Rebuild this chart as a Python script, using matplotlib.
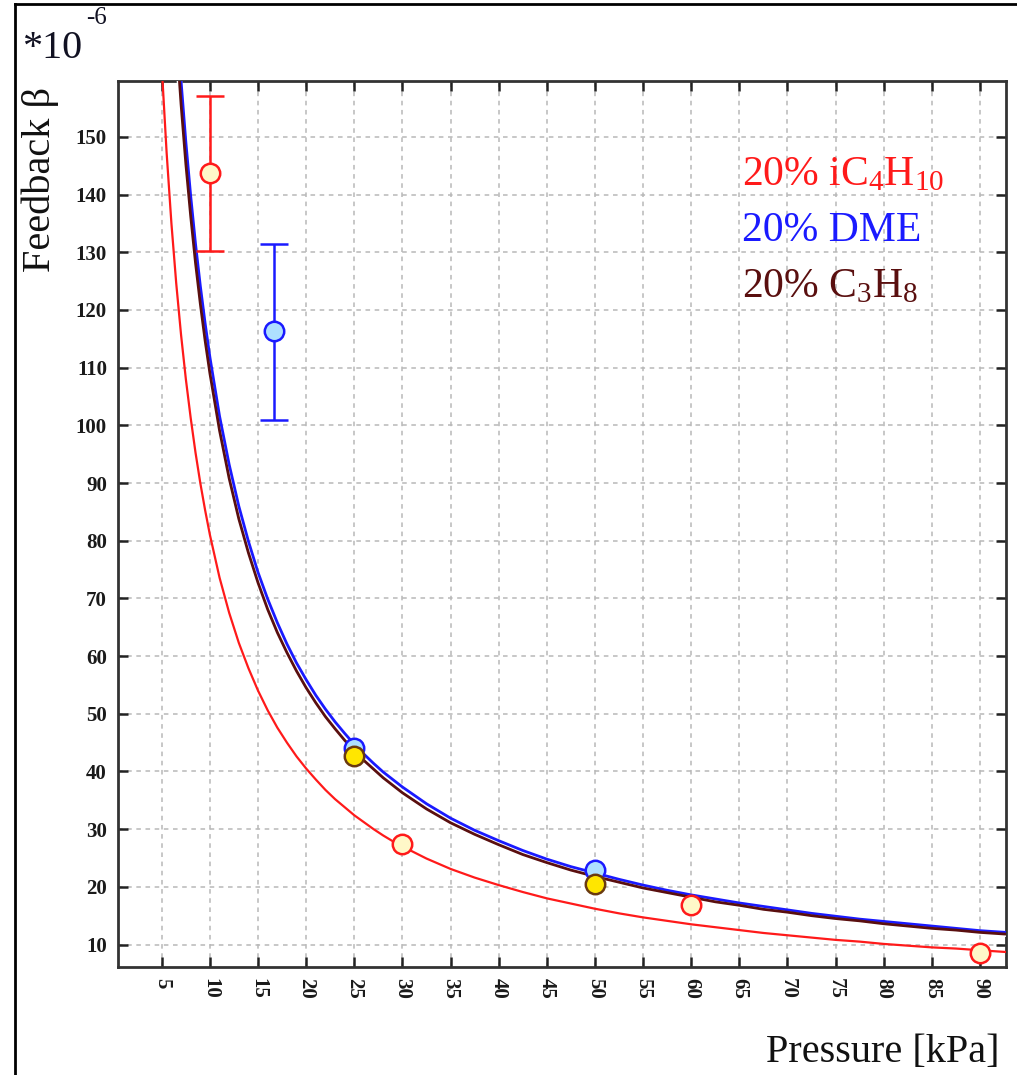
import matplotlib
matplotlib.use("Agg")
import matplotlib.pyplot as plt
from matplotlib.lines import Line2D

plt.rcParams['font.family'] = ['Liberation Serif', 'DejaVu Serif']
plt.rcParams['mathtext.fontset'] = 'custom'
plt.rcParams['mathtext.rm'] = 'Liberation Serif'
plt.rcParams['mathtext.default'] = 'rm'

# ---- data (beta in units of 1e-6) ----
# fitted curves, read at several pressures
curve_p_ic4h10 = [4.5, 5, 5.5, 6, 6.5, 7, 7.5, 8, 8.5, 9, 9.5, 10, 11, 12, 13, 14, 15,
                  16, 17, 18, 19, 20, 21, 22, 23, 24, 25, 26, 27, 28, 29, 30, 32.5, 35,
                  37.5, 40, 42.5, 45, 47.5, 50, 52.5, 55, 57.5, 60, 62.5, 65, 67.5, 70,
                  72.5, 75, 77.5, 80, 82.5, 85, 87.5, 90, 92.7]
curve_ic4h10 = [180, 162, 147.3, 135, 124.6, 115.7, 108, 101.3, 95.3, 90, 85.3, 81,
                73.6, 67.5, 62.3, 57.9, 54, 50.6, 47.6, 45, 42.6, 40.5, 38.6, 36.8,
                35.2, 33.8, 32.4, 31.2, 30, 28.9, 27.9, 27, 24.9, 23.1, 21.6, 20.3,
                19.1, 18, 17.1, 16.2, 15.4, 14.7, 14.1, 13.5, 13.0, 12.5, 12.0, 11.6,
                11.2, 10.8, 10.5, 10.1, 9.8, 9.5, 9.3, 9.0, 8.7]

curve_p_other = [6.5, 7, 7.5, 8, 8.5, 9, 9.5, 10, 11, 12, 13, 14, 15, 16, 17, 18, 19,
                 20, 21, 22, 23, 24, 25, 26, 27, 28, 29, 30, 32.5, 35, 37.5, 40, 42.5,
                 45, 47.5, 50, 52.5, 55, 57.5, 60, 62.5, 65, 67.5, 70, 72.5, 75, 77.5,
                 80, 82.5, 85, 87.5, 90, 92.7]
curve_dme = [172, 159.7, 149.1, 139.8, 131.5, 124.2, 117.7, 111.8, 101.6, 93.2, 86,
             79.9, 74.5, 69.9, 65.8, 62.1, 58.8, 55.9, 53.2, 50.8, 48.6, 46.6, 44.7,
             43, 41.4, 39.9, 38.6, 37.3, 34.4, 31.9, 29.8, 28, 26.3, 24.8, 23.5, 22.4,
             21.3, 20.3, 19.4, 18.6, 17.9, 17.2, 16.6, 16, 15.4, 14.9, 14.4, 14, 13.6,
             13.2, 12.8, 12.4, 12.1]
curve_c3h8 = [167.7, 155.7, 145.3, 136.3, 128.2, 121.1, 114.7, 109, 99.1, 90.8, 83.8,
              77.9, 72.7, 68.1, 64.1, 60.6, 57.4, 54.5, 51.9, 49.5, 47.4, 45.4, 43.6,
              41.9, 40.4, 38.9, 37.6, 36.3, 33.5, 31.1, 29.1, 27.3, 25.6, 24.2, 22.9,
              21.8, 20.8, 19.8, 19, 18.2, 17.4, 16.8, 16.1, 15.6, 15, 14.5, 14.1, 13.6,
              13.2, 12.8, 12.5, 12.1, 11.8]

# measured points
ic4h10_p = [10, 30, 60, 90]
ic4h10_b = [143.8, 27.4, 16.8, 8.5]
ic4h10_lo = [13.5, 0, 0, 0]
ic4h10_hi = [13.3, 0, 0, 0]

dme_p = [16.7, 25, 50]
dme_b = [116.3, 44.0, 22.9]
dme_lo = [15.3, 0, 0]
dme_hi = [15.2, 0, 0]

c3h8_p = [25, 50]
c3h8_b = [42.7, 20.5]

xticks = list(range(5, 95, 5))
yticks = list(range(10, 160, 10))

labels = [r'20% iC$_4$H$_{10}$', '20% DME', r'20% C$_3$H$_8$']
label_colors = ['#ff1a1a', '#1a1aff', '#5a0f0f']

# ---- figure ----
fig = plt.figure(figsize=(10.17, 10.75), dpi=100)
ax = fig.add_axes([118 / 1017, 1 - 967 / 1075, (1006 - 118) / 1017, (967 - 81) / 1075])

red = '#ff1a1a'
blue = '#1a1aff'
brown = '#5a0f0f'

ax.plot(curve_p_ic4h10, curve_ic4h10, color=red, lw=1.6, zorder=3)
ax.plot(curve_p_other, curve_c3h8, color='white', lw=4.0, zorder=3)
ax.plot(curve_p_other, curve_dme, color=blue, lw=2.0, zorder=3)
ax.plot(curve_p_other, curve_c3h8, color=brown, lw=2.0, zorder=4)


def draw_errors(ax, xs, ys, lo, hi, color):
    for x, y, l, h in zip(xs, ys, lo, hi):
        if l > 0 or h > 0:
            ax.errorbar([x], [y], yerr=[[l], [h]], fmt='none', ecolor=color,
                        elinewidth=1.8, capsize=10, capthick=1.8, zorder=5)


draw_errors(ax, ic4h10_p, ic4h10_b, ic4h10_lo, ic4h10_hi, red)
draw_errors(ax, dme_p, dme_b, dme_lo, dme_hi, blue)

ax.plot(ic4h10_p, ic4h10_b, 'o', ms=14, mfc='#fff8c8', mec=red, mew=1.8, zorder=6)
ax.plot(dme_p, dme_b, 'o', ms=14, mfc='#aee0ff', mec=blue, mew=1.8, zorder=6)
ax.plot(c3h8_p, c3h8_b, 'o', ms=14, mfc='#ffe600', mec='#6a3a10', mew=1.8, zorder=7)

ax.set_xlim(0.45, 92.7)
ax.set_ylim(6.1, 159.7)
ax.set_xticks(xticks)
ax.set_yticks(yticks)
ax.set_xticklabels([str(v) for v in xticks], rotation=-90, fontsize=15,
                   fontweight='bold')
ax.set_yticklabels([str(v) for v in yticks], fontsize=15, fontweight='bold')
ax.tick_params(direction='in', length=7, width=1.8, top=True, right=True,
               colors='#222222', labelcolor='#1a1a1a', pad=8)
ax.grid(True, color='#b8b8b8', ls=(0, (3, 3)), lw=1.1)
for s in ax.spines.values():
    s.set_linewidth(2)
    s.set_color('#333333')

# legend-like labels
for i, (t, c) in enumerate(zip(labels, label_colors)):
    fig.text(742 / 1017, 1 - (185 + 56 * i) / 1075, t, color=c, fontsize=30,
             ha='left', va='baseline')

# axis labels
fig.text(40 / 1017, 1 - 272 / 1075, 'Feedback β', rotation=90, fontsize=29,
         ha='center', va='bottom', color='#111111')
fig.text(22 / 1017, 1 - 58 / 1075, '*10', fontsize=29, ha='left', va='baseline',
         color='#111122')
fig.text(86 / 1017, 1 - 24 / 1075, '-6', fontsize=18, ha='left', va='baseline',
         color='#111122')
fig.text(1000 / 1017, 1 - 1062 / 1075, 'Pressure [kPa]', fontsize=29, ha='right',
         va='baseline', color='#111111')

# outer frame (left and top)
fig.add_artist(Line2D([15 / 1017, 15 / 1017], [0, 1 - 4 / 1075], color='black', lw=2,
                      transform=fig.transFigure))
fig.add_artist(Line2D([15 / 1017, 1], [1 - 4 / 1075, 1 - 4 / 1075], color='black', lw=2,
                      transform=fig.transFigure))

fig.savefig('out.png', dpi=100)
